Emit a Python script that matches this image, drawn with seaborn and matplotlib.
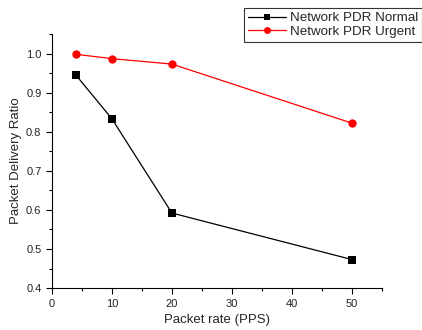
import pandas as pd
import matplotlib.pyplot as plt
import seaborn as sns
from matplotlib.ticker import MultipleLocator

sns.set_theme(style="ticks")
plt.rcParams['font.family'] = ['Liberation Sans', 'DejaVu Sans']

# dados
taxa_pps = [4, 10, 20, 50]
pdr_normal = [0.945, 0.833, 0.592, 0.473]
pdr_urgente = [0.998, 0.987, 0.973, 0.822]
series = ['Network PDR Normal', 'Network PDR Urgent']

df = pd.DataFrame({
    'x': taxa_pps * 2,
    'y': pdr_normal + pdr_urgente,
    'serie': [series[0]] * 4 + [series[1]] * 4,
})

fig = plt.figure(figsize=(4.22, 3.30), dpi=100)
ax = fig.add_axes([0.123, 0.127, 0.782, 0.770])

sns.lineplot(
    data=df, x='x', y='y', hue='serie', style='serie',
    palette={series[0]: 'black', series[1]: 'red'},
    markers={series[0]: 's', series[1]: 'o'},
    dashes=False, linewidth=0.9, markersize=6, markeredgewidth=0,
    ax=ax, legend=False,
)

ax.set_xlim(0, 55)
ax.set_ylim(0.4, 1.05)
ax.xaxis.set_major_locator(MultipleLocator(10))
ax.xaxis.set_minor_locator(MultipleLocator(5))
ax.yaxis.set_minor_locator(MultipleLocator(0.05))
ax.set_yticks([0.4, 0.5, 0.6, 0.7, 0.8, 0.9, 1.0])
ax.set_yticklabels(['0.4', '0.5', '0.6', '0.7', '0.8', '0.9', '1.0'])
ax.tick_params(which='major', direction='out', length=4, width=0.8, labelsize=8, color='black', labelcolor='#222222')
ax.tick_params(which='minor', direction='out', length=2, width=0.8, color='black')
sns.despine(ax=ax)
for s in ['left', 'bottom']:
    ax.spines[s].set_color('black')
    ax.spines[s].set_linewidth(0.8)

ax.set_xlabel('Packet rate (PPS)', fontsize=9.5, labelpad=4)
ax.set_ylabel('Packet Delivery Ratio', fontsize=9.5, labelpad=3)

handles = [
    plt.Line2D([], [], color='black', marker='s', markersize=5, linewidth=0.9, markeredgewidth=0),
    plt.Line2D([], [], color='red', marker='o', markersize=5, linewidth=0.9, markeredgewidth=0),
]
leg = fig.legend(handles, series, loc='upper right', bbox_to_anchor=(1.0, 1 - 8 / 330),
                 fontsize=9.6, frameon=True, fancybox=False, borderaxespad=0,
                 handlelength=2.8, handletextpad=0.3, borderpad=0.3, labelspacing=0.1)
leg.get_frame().set_edgecolor('black')
leg.get_frame().set_linewidth(0.8)

fig.savefig('out.png', dpi=100)
